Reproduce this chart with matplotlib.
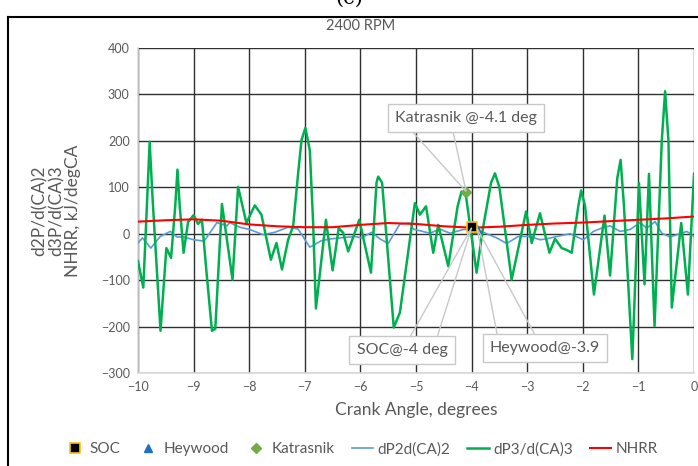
import numpy as np
import matplotlib.pyplot as plt
from matplotlib.lines import Line2D
from matplotlib.patches import Polygon

# crank angle / d3P curve
ca_d3 = [-10.0, -9.905, -9.84, -9.79, -9.74, -9.595, -9.49, -9.405, -9.33, -9.29, -9.25,
         -9.18, -9.1, -9.0, -8.92, -8.85, -8.77, -8.67, -8.61, -8.49, -8.30, -8.20,
         -8.05, -7.90, -7.78, -7.61, -7.51, -7.41, -7.30, -7.21, -7.12, -7.06, -6.99,
         -6.91, -6.85, -6.80, -6.62, -6.50, -6.39, -6.31, -6.22, -6.02, -5.81, -5.71,
         -5.68, -5.61, -5.40, -5.29, -5.02, -4.93, -4.82, -4.69, -4.60, -4.42, -4.25,
         -4.18, -4.10, -3.91, -3.80, -3.65, -3.58, -3.50, -3.28, -3.02, -2.92, -2.77,
         -2.60, -2.50, -2.38, -2.29, -2.20, -2.08, -2.03, -1.96, -1.80, -1.61, -1.51,
         -1.38, -1.32, -1.26, -1.11, -0.99, -0.89, -0.81, -0.71, -0.58, -0.52, -0.46,
         -0.40, -0.23, -0.11, 0.0]
d3 = [-59, -116, 60, 198, 80, -209, -31, -52, 60, 138, 60,
      -41, 25, 40, 21, 30, -80, -209, -205, 64, -99, 101,
      23, 61, 41, -56, -20, -77, -13, 16, 130, 201, 228,
      180, 23, -161, 30, -79, 12, 2, -38, 30, -84, 110,
      123, 110, -202, -170, 66, 41, 59, -41, 19, -70, 60,
      91, 80, -84, 9, 110, 130, 100, -99, 48, -20, 44,
      -41, -11, -31, -35, -41, 60, 93, 60, -131, 39, -90,
      120, 159, 60, -270, 109, -109, 129, -199, 200, 307, 200,
      -159, 23, -131, 129]

# d2P curve
ca_d2 = [-10.0, -9.92, -9.77, -9.6, -9.42, -9.30, -9.18, -9.0, -8.81, -8.58, -8.40,
         -8.35, -8.17, -7.99, -7.75, -7.54, -7.30, -7.12, -6.91, -6.70, -6.52, -6.28,
         -6.10, -5.98, -5.80, -5.65, -5.50, -5.29, -5.11, -5.05, -4.75, -4.57, -4.39,
         -4.15, -4.0, -3.79, -3.55, -3.37, -3.16, -2.95, -2.77, -2.65, -2.47, -2.23,
         -1.99, -1.81, -1.66, -1.51, -1.33, -1.15, -0.97, -0.85, -0.70, -0.58, -0.43,
         -0.25, -0.13, 0.0]
d2 = [-20, -9, -31, -6, 5, -7, -7, -13, -16, 24, 17,
      24, 14, 9, -2, 3, 14, 10, -29, -15, -11, -8,
      -6, -9, 3, -11, -21, 21, 23, 10, 1, 10, 1,
      9, 10, 3, -9, -21, -6, -6, -13, -11, -6, 0,
      -13, 5, 12, 17, 5, 9, 24, 12, 26, 1, -7,
      0, 5, -6]

# net heat release rate
ca_hr = [-10, -9.5, -9, -8.5, -8, -7.5, -7, -6.5, -6, -5.5, -5, -4.5, -4, -3.5, -3,
         -2.5, -2, -1.5, -1, -0.5, 0]
nhrr = [26, 29, 31, 28, 20, 16, 14, 14, 19, 23, 21, 16, 13, 15, 19, 22, 24, 27, 30, 33, 37]

# SOC estimates
soc_x, soc_y = [-4.0], [15]
heywood_x, heywood_y = [-3.9], [10]
katrasnik_x, katrasnik_y = [-4.1], [90]

grey = "#595959"
plt.rcParams["font.family"] = ["Lato", "DejaVu Sans"]

fig = plt.figure(figsize=(6.98, 4.66), dpi=100)
ax = fig.add_axes([0.1977, 0.1996, 0.7966, 0.6974])

ax.plot(ca_d2, d2, color="#5b9bd5", lw=1.2, label="dP2d(CA)2", zorder=3)
ax.plot(ca_d3, d3, color="#00b050", lw=1.8, label="dP3/d(CA)3", zorder=4)
ax.plot(ca_hr, nhrr, color="#ff0000", lw=1.5, label="NHRR", zorder=5)
ax.plot(soc_x, soc_y, "s", color="black", mec="#ffc000", mew=1.2, ms=7,
        label="SOC", zorder=7)
ax.plot(heywood_x, heywood_y, "^", color="#1f6fc5", ms=6, label="Heywood", zorder=6)
ax.plot(katrasnik_x, katrasnik_y, "D", color="#70ad47", ms=5, label="Katrasnik", zorder=6)

ax.set_xlim(-10, 0)
ax.set_ylim(-300, 400)
ax.set_xticks(np.arange(-10, 1, 1))
ax.set_yticks(np.arange(-300, 401, 100))
ax.grid(True, color="#303030", lw=1.0)
ax.set_axisbelow(True)
for s in ["top", "right"]:
    ax.spines[s].set_visible(False)
for s in ["left", "bottom"]:
    ax.spines[s].set_color("#d9d9d9")
    ax.spines[s].set_linewidth(1.2)
ax.tick_params(length=0, colors=grey, labelsize=9, pad=6)

ax.set_xlabel("Crank Angle, degrees", color=grey, fontsize=12.5, labelpad=6)
ax.set_ylabel("d2P/d(CA)2\nd3P/d(CA)3\nNHRR, kJ/degCA", color=grey, fontsize=12.5,
              labelpad=14, linespacing=1.05)
fig.text(0.516, 0.944, "2400 RPM", ha="center", va="center", color=grey, fontsize=10.5)

# callouts: (text, text position, wedge base points, tip)
callouts = [
    ("Katrasnik @-4.1 deg", (-4.10, 249), [(-5.05, 218), (-4.33, 218)], (-4.10, 91)),
    ("SOC@-4 deg", (-5.25, -251), [(-5.11, -223), (-4.62, -223)], (-4.0, 13)),
    ("Heywood@-3.9", (-2.68, -246), [(-3.54, -218), (-2.86, -218)], (-3.9, 11)),
]
for txt, pos, base, tip in callouts:
    ax.add_patch(Polygon([base[0], tip, base[1]], closed=True, fill=False,
                         ec="#c8c8c8", lw=1.0, zorder=8))
    ax.text(pos[0], pos[1], txt, ha="center", va="center", color=grey, fontsize=11.5,
            zorder=9, bbox=dict(boxstyle="square,pad=0.45", fc="white", ec="#c8c8c8", lw=1.0))

h, l = ax.get_legend_handles_labels()
order = ["SOC", "Heywood", "Katrasnik", "dP2d(CA)2", "dP3/d(CA)3", "NHRR"]
hd = dict(zip(l, h))
leg = fig.legend([hd[k] for k in order], order, loc="center", bbox_to_anchor=(0.517, 0.036),
                 ncol=6, frameon=False, fontsize=11, handlelength=1.4, handletextpad=0.3,
                 columnspacing=1.1, labelcolor=grey)

# outer frame and cut-off panel label
fig.add_artist(Line2D([8 / 698, 8 / 698], [0, 1 - 17 / 466], color="black", lw=1.5))
fig.add_artist(Line2D([8 / 698, 1], [1 - 17 / 466, 1 - 17 / 466], color="black", lw=1.5))
fig.text(0.5, 1.004, "(c)", ha="center", va="center", fontsize=15, family="DejaVu Serif")

fig.savefig("out.png", dpi=100)
